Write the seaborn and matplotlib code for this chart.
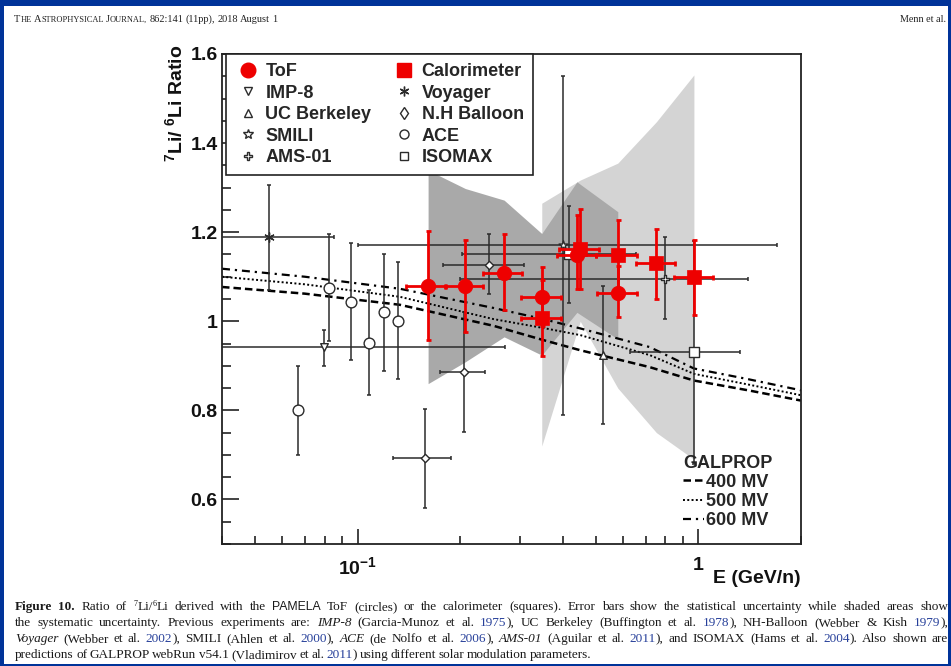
import re
import numpy as np
import pandas as pd
import matplotlib
matplotlib.use("Agg")
import matplotlib.pyplot as plt
import seaborn as sns
from matplotlib.lines import Line2D
from matplotlib.patches import Rectangle
from matplotlib.ticker import FixedLocator, MultipleLocator, LogLocator, FuncFormatter, NullFormatter

# ---------------- data ----------------
# PAMELA ToF (circles)
tof_E = [0.161, 0.207, 0.269, 0.347, 0.44, 0.58]
tof_ratio = [1.079, 1.079, 1.109, 1.054, 1.148, 1.064]
tof_E_lo = [0.139, 0.180, 0.233, 0.302, 0.385, 0.505]
tof_E_hi = [0.182, 0.233, 0.304, 0.394, 0.500, 0.660]
tof_err_lo = [0.122, 0.103, 0.084, 0.064, 0.075, 0.055]
tof_err_hi = [0.124, 0.103, 0.086, 0.067, 0.090, 0.060]
tof_sys_lo = [0.860, 0.909, 0.965, 0.924, 1.020, 0.960]
tof_sys_hi = [1.339, 1.298, 1.272, 1.197, 1.313, 1.246]

# PAMELA calorimeter (squares)
cal_E = [0.347, 0.45, 0.58, 0.753, 0.97]
cal_ratio = [1.008, 1.163, 1.148, 1.130, 1.100]
cal_E_lo = [0.302, 0.390, 0.500, 0.654, 0.850]
cal_E_hi = [0.394, 0.510, 0.660, 0.852, 1.100]
cal_err_lo = [0.085, 0.090, 0.080, 0.081, 0.087]
cal_err_hi = [0.085, 0.090, 0.080, 0.077, 0.082]
cal_sys_lo = [0.720, 1.000, 0.850, 0.750, 0.690]
cal_sys_hi = [1.265, 1.317, 1.355, 1.448, 1.553]

# previous experiments
ace_E = [0.0668, 0.0824, 0.0956, 0.108, 0.1194, 0.131]
ace_ratio = [0.800, 1.075, 1.043, 0.952, 1.021, 1.000]
ace_err_lo = [0.100, 0.120, 0.131, 0.118, 0.133, 0.130]
ace_err_hi = [0.100, 0.122, 0.132, 0.119, 0.130, 0.132]

voy_E = [0.055]
voy_ratio = [1.19]
voy_E_lo = [0.025]
voy_E_hi = [0.085]
voy_err_lo = [0.12]
voy_err_hi = [0.115]

imp_E = [0.0796]
imp_ratio = [0.942]
imp_E_lo = [0.02]
imp_E_hi = [0.27]
imp_err_lo = [0.042]
imp_err_hi = [0.039]

nhb_E = [0.158, 0.205, 0.243]
nhb_ratio = [0.693, 0.886, 1.127]
nhb_E_lo = [0.127, 0.174, 0.178]
nhb_E_hi = [0.188, 0.236, 0.308]
nhb_err_lo = [0.113, 0.135, 0.066]
nhb_err_hi = [0.111, 0.134, 0.068]

ams_E = [0.80]
ams_ratio = [1.096]
ams_E_lo = [0.20]
ams_E_hi = [1.40]
ams_err_lo = [0.090]
ams_err_hi = [0.094]

smili_E = [0.40]
smili_ratio = [1.172]
smili_E_lo = [0.10]
smili_E_hi = [1.70]
smili_err_lo = [0.382]
smili_err_hi = [0.379]

ucb_E = [0.5265]
ucb_ratio = [0.924]
ucb_err_lo = [0.155]
ucb_err_hi = [0.155]

iso_E = [0.416, 0.968]
iso_ratio = [1.150, 0.930]
iso_E_lo = [0.203, 0.628]
iso_E_hi = [0.657, 1.325]
iso_err_lo = [0.110, 0.250]
iso_err_hi = [0.109, 0.250]

# GALPROP predictions for three modulation potentials
gal_E = [0.04, 0.07, 0.133, 0.25, 0.35, 0.45, 0.72, 0.97, 1.4, 2.0]
gal_400 = [1.077, 1.062, 1.037, 0.990, 0.958, 0.935, 0.897, 0.867, 0.845, 0.822]
gal_500 = [1.100, 1.083, 1.055, 1.005, 0.985, 0.969, 0.924, 0.882, 0.858, 0.834]
gal_600 = [1.118, 1.100, 1.073, 1.030, 1.005, 0.984, 0.942, 0.894, 0.870, 0.845]

x_limits = (0.04, 2.0)
y_limits = (0.5, 1.6)
y_major = [0.6, 0.8, 1.0, 1.2, 1.4, 1.6]

# ---------------- style ----------------
sns.set_theme(style="ticks")
plt.rcParams["font.family"] = ["Liberation Sans", "DejaVu Sans"]
plt.rcParams["mathtext.fontset"] = "custom"
plt.rcParams["mathtext.rm"] = "Liberation Sans:bold"
plt.rcParams["mathtext.it"] = "Liberation Sans:bold:italic"
plt.rcParams["mathtext.bf"] = "Liberation Sans:bold"
plt.rcParams["axes.unicode_minus"] = True

W, H = 951, 666
fig = plt.figure(figsize=(W / 100, H / 100), dpi=100, facecolor="white")
renderer = fig.canvas.get_renderer()

ax = fig.add_axes([222 / W, 1 - 544 / H, 579 / W, 490 / H])
ax.set_facecolor("white")
ax.set_xscale("log")
ax.set_xlim(*x_limits)
ax.set_ylim(*y_limits)

BAR = "#2b2b2b"
RED = "#ee0000"

# systematic bands
ax.fill_between(cal_E, cal_sys_lo, cal_sys_hi, color="#d4d4d4", lw=0, zorder=1)
ax.fill_between(tof_E, tof_sys_lo, tof_sys_hi, color="#a9a9a9", lw=0, zorder=1.1)

# GALPROP curves
gal = pd.DataFrame({"E": gal_E, "400 MV": gal_400, "500 MV": gal_500, "600 MV": gal_600})
sns.lineplot(data=gal, x="E", y="400 MV", ax=ax, color="black", lw=1.8, zorder=2)
ax.lines[-1].set_dashes((3.0, 1.6))
sns.lineplot(data=gal, x="E", y="500 MV", ax=ax, color="black", lw=1.4, zorder=2)
ax.lines[-1].set_dashes((1.0, 1.2))
sns.lineplot(data=gal, x="E", y="600 MV", ax=ax, color="black", lw=1.6, zorder=2)
ax.lines[-1].set_dashes((3.6, 2.2, 1.0, 2.2))
l400, l500, l600 = ax.lines[-3], ax.lines[-2], ax.lines[-1]


def bars(E, r, elo=None, ehi=None, lo=None, hi=None, color=BAR, lw=1.1, cap=1.6, z=3):
    E = np.asarray(E)
    xerr = None
    if elo is not None:
        xerr = [E - np.asarray(elo), np.asarray(ehi) - E]
    ax.errorbar(E, r, xerr=xerr, yerr=[lo, hi], fmt="none", ecolor=color,
                elinewidth=lw, capsize=cap, capthick=lw, zorder=z)


def marks(E, r, marker, size, face="white", edge=BAR, lw=1.0, z=4):
    sns.scatterplot(x=E, y=r, ax=ax, marker=marker, s=size, color=face,
                    edgecolor=edge, linewidth=lw, zorder=z, legend=False)


bars(voy_E, voy_ratio, voy_E_lo, voy_E_hi, voy_err_lo, voy_err_hi)
bars(imp_E, imp_ratio, imp_E_lo, imp_E_hi, imp_err_lo, imp_err_hi)
bars(ace_E, ace_ratio, lo=ace_err_lo, hi=ace_err_hi)
bars(nhb_E, nhb_ratio, nhb_E_lo, nhb_E_hi, nhb_err_lo, nhb_err_hi)
bars(ams_E, ams_ratio, ams_E_lo, ams_E_hi, ams_err_lo, ams_err_hi)
bars(smili_E, smili_ratio, smili_E_lo, smili_E_hi, smili_err_lo, smili_err_hi)
bars(ucb_E, ucb_ratio, lo=ucb_err_lo, hi=ucb_err_hi)
bars(iso_E, iso_ratio, iso_E_lo, iso_E_hi, iso_err_lo, iso_err_hi)

marks(voy_E, voy_ratio, (6, 2, 0), 45, face=BAR, lw=1.0)
marks(imp_E, imp_ratio, "v", 30)
marks(ace_E, ace_ratio, "o", 60)
marks(nhb_E, nhb_ratio, "D", 18)
marks(ams_E, ams_ratio, "P", 40)
marks(smili_E, smili_ratio, "*", 45)
marks(ucb_E, ucb_ratio, "^", 30)
marks(iso_E, iso_ratio, "s", 45)

bars(tof_E, tof_ratio, tof_E_lo, tof_E_hi, tof_err_lo, tof_err_hi, color=RED, lw=2.0, cap=1.8, z=5)
bars(cal_E, cal_ratio, cal_E_lo, cal_E_hi, cal_err_lo, cal_err_hi, color=RED, lw=2.0, cap=1.8, z=5)
marks(tof_E, tof_ratio, "o", 110, face=RED, edge=RED, lw=0.5, z=6)
marks(cal_E, cal_ratio, "s", 105, face=RED, edge=RED, lw=0.5, z=6)

# ---------------- axes cosmetics ----------------
for s in ax.spines.values():
    s.set_color("#222222")
    s.set_linewidth(1.3)
ax.yaxis.set_major_locator(FixedLocator(y_major))
ax.yaxis.set_minor_locator(MultipleLocator(0.05))
ax.yaxis.set_major_formatter(FuncFormatter(lambda v, p: f"{v:g}"))
ax.xaxis.set_major_locator(FixedLocator([0.1, 1.0]))
ax.xaxis.set_minor_locator(LogLocator(base=10, subs=np.arange(2, 10), numticks=10))
ax.xaxis.set_minor_formatter(NullFormatter())


def xfmt(v, p):
    if abs(v - 0.1) < 1e-9:
        return r"$10^{-1}$"
    if abs(v - 1.0) < 1e-9:
        return "1"
    return ""


ax.xaxis.set_major_formatter(FuncFormatter(xfmt))
ax.tick_params(which="both", direction="in", top=False, right=False, color="#222222", width=1.2)
ax.tick_params(axis="y", which="major", length=12.2, pad=3, labelsize=14)
ax.tick_params(axis="y", which="minor", length=6.2)
ax.tick_params(axis="x", which="major", length=10.8, pad=9, labelsize=14)
ax.tick_params(axis="x", which="minor", length=5.8)
for lab in ax.get_xticklabels() + ax.get_yticklabels():
    lab.set_fontweight("bold")
    lab.set_color("#111111")

ax.set_xlabel("E (GeV/n)", fontsize=14, fontweight="bold", color="#111111", ha="right", va="center")
ax.xaxis.set_label_coords(1.0, -0.0694)
ax.set_ylabel(r"$^{7}$Li/ $^{6}$Li Ratio", fontsize=14, fontweight="bold", color="#111111",
              loc="top")
ax.yaxis.set_label_coords(-0.062, 1.02)
ax.grid(False)

# ---------------- legends ----------------
def proxy(marker, ms, face="white", edge=BAR, mew=1.0):
    return Line2D([], [], ls="none", marker=marker, ms=ms, mfc=face, mec=edge, mew=mew)


handles = [
    proxy("o", 10.5, RED, RED), proxy("v", 6), proxy("^", 6), proxy("*", 7), proxy("P", 6),
    proxy("s", 10, RED, RED), proxy((6, 2, 0), 7, BAR), proxy("d", 6), proxy("o", 6.5), proxy("s", 6),
]
labels = ["ToF", "IMP-8", "UC Berkeley", "SMILI", "AMS-01",
          "Calorimeter", "Voyager", "N.H Balloon", "ACE", "ISOMAX"]
leg = ax.legend(handles, labels, ncol=2, loc="upper left",
                bbox_to_anchor=((226 - 222) / 579, 1.0), borderaxespad=0,
                prop={"weight": "bold", "size": 13}, frameon=True, fancybox=False,
                edgecolor="#222222", framealpha=1, borderpad=0.5, labelspacing=0.25,
                handlelength=1.4, handletextpad=0.28, columnspacing=1.1)
leg.get_frame().set_linewidth(1.2)
ax.add_artist(leg)

gl = ax.legend([l400, l500, l600], ["400 MV", "500 MV", "600 MV"], title="GALPROP",
               loc="lower right", bbox_to_anchor=(0.966, 0.012), frameon=False,
               prop={"weight": "bold", "size": 13}, handlelength=1.15, handletextpad=0.15,
               labelspacing=0.12, borderpad=0, alignment="left",
               title_fontproperties={"weight": "bold", "size": 13})

# ---------------- page decoration ----------------
SERIF = ["Liberation Serif", "DejaVu Serif"]
LINK = "#27409a"


def set_line(words, x0, baseline, x1=None, space=3.0):
    items, total = [], 0.0
    for runs in words:
        arts, wsum = [], 0.0
        for text, props, rise in runs:
            if not text:
                continue
            t = fig.text(0, (H - baseline + rise) / H, text, ha="left", va="baseline", **props)
            w = t.get_window_extent(renderer).width
            arts.append((t, wsum))
            wsum += w
        items.append((arts, wsum))
        total += wsum
    gaps = len(items) - 1
    gap = (x1 - x0 - total) / gaps if (x1 is not None and gaps) else space
    x = x0
    for arts, wsum in items:
        for t, off in arts:
            t.set_x((x + off) / W)
        x += wsum + gap


# journal running head in small caps
big = dict(family=SERIF, fontsize=7.5, color="#222222")
small = dict(family=SERIF, fontsize=6.0, color="#222222")
head = [[("T", big, 0), ("HE", small, 0)], [("A", big, 0), ("STROPHYSICAL", small, 0)],
        [("J", big, 0), ("OURNAL,", small, 0)], [("862:141", big, 0)],
        [("(11pp),", big, 0)], [("2018", big, 0)], [("August", big, 0)], [("1", big, 0)]]
set_line(head, 14, 22, space=2.2)
fig.text(946 / W, 1 - 22 / H, "Menn et al.", ha="right", va="baseline",
         **{**big, "fontsize": 7.3})

# figure caption
CAP = 9.5
ITAL = {"IMP-8", "Voyager", "ACE", "AMS-01"}


def runs_for(word):
    base = dict(family=SERIF, fontsize=CAP, color="#1a1a1a")
    if word in ("Figure", "10."):
        return [(word, {**base, "weight": "bold"}, 0)]
    if word == "PAMELA":
        return [(word, dict(family="Liberation Sans", fontsize=CAP * 0.93, color="#1a1a1a"), 0)]
    if word == "7Li/6Li":
        sup = {**base, "fontsize": CAP * 0.62}
        return [("7", sup, 3.6), ("Li/", base, 0), ("6", sup, 3.6), ("Li", base, 0)]
    m = re.match(r"^(\(?)(\d{4})(.*)$", word)
    if m:
        return [(m.group(1), base, 0), (m.group(2), {**base, "color": LINK}, 0), (m.group(3), base, 0)]
    if word in ITAL:
        return [(word, {**base, "style": "italic"}, 0)]
    return [(word, base, 0)]


caption = [
    "Figure 10. Ratio of 7Li/6Li derived with the PAMELA ToF (circles) or the calorimeter (squares). "
    "Error bars show the statistical uncertainty while shaded areas show",
    "the systematic uncertainty. Previous experiments are: IMP-8 (Garcia-Munoz et al. 1975), "
    "UC Berkeley (Buffington et al. 1978), NH-Balloon (Webber & Kish 1979),",
    "Voyager (Webber et al. 2002), SMILI (Ahlen et al. 2000), ACE (de Nolfo et al. 2006), "
    "AMS-01 (Aguilar et al. 2011), and ISOMAX (Hams et al. 2004). Also shown are",
    "predictions of GALPROP webRun v54.1 (Vladimirov et al. 2011) using different solar modulation parameters.",
]
cap_baselines = [610, 626, 642, 658]
for i, (line, yb) in enumerate(zip(caption, cap_baselines)):
    words = [runs_for(w) for w in line.split(" ")]
    set_line(words, 15, yb, x1=948 if i < 3 else None, space=2.4)

# page border
BLUE = "#003399"
for (x, y, w, h) in [(0, 0, W, 6), (0, 0, 4, H), (W - 3, 0, 3, H), (0, H - 2, W, 2)]:
    fig.patches.append(Rectangle((x / W, 1 - (y + h) / H), w / W, h / H,
                                 transform=fig.transFigure, color=BLUE, lw=0, zorder=10))

fig.savefig("out.png", dpi=100, facecolor="white")
